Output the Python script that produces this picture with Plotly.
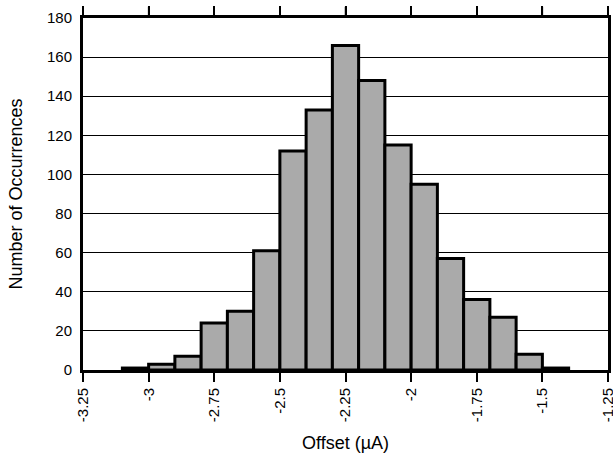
import plotly.graph_objects as go

# Histogram data: bin left edges (µA), bin width, counts
bin_left = [-3.1, -3.0, -2.9, -2.8, -2.7, -2.6, -2.5, -2.4, -2.3, -2.2,
            -2.1, -2.0, -1.9, -1.8, -1.7, -1.6, -1.5]
bin_width = 0.1
counts = [1, 3, 7, 24, 30, 61, 112, 133, 166, 148, 115, 95, 57, 36, 27, 8, 1]

x_tickvals = [-3.25, -3.0, -2.75, -2.5, -2.25, -2.0, -1.75, -1.5, -1.25]
x_ticktext = ["-3.25", "-3", "-2.75", "-2.5", "-2.25", "-2", "-1.75", "-1.5", "-1.25"]
y_tickvals = [0, 20, 40, 60, 80, 100, 120, 140, 160, 180]

x_range = [x_tickvals[0], x_tickvals[-1]]
centers = [b + bin_width / 2 for b in bin_left]

fig = go.Figure(go.Bar(
    x=centers, y=counts, width=[bin_width] * len(counts),
    marker=dict(color="#aaaaaa", line=dict(color="black", width=3)),
))

font = "Liberation Sans, Arial, sans-serif"
fig.update_layout(
    width=613, height=453,
    margin=dict(l=83, r=5, t=18, b=83, autoexpand=False),
    paper_bgcolor="white", plot_bgcolor="white",
    showlegend=False,
    font=dict(family=font, size=15, color="black"),
    xaxis=dict(
        range=x_range, tickvals=x_tickvals, ticktext=x_ticktext,
        tickangle=-90, ticks="outside", ticklen=9, tickwidth=1.5, tickcolor="black",
        showline=True, linecolor="black", linewidth=3, mirror="allticks",
        showgrid=False, zeroline=False, automargin=False,
        ticklabeloverflow="allow",
        title=dict(text="Offset (µA)", standoff=16),
    ),
    yaxis=dict(
        range=[0, 180], tickvals=y_tickvals,
        ticks="outside", ticklen=5, tickcolor="rgba(0,0,0,0)",
        showline=True, linecolor="black", linewidth=3, mirror=True,
        showgrid=True, gridcolor="black", gridwidth=1, zeroline=False,
        automargin=False,
        title=dict(text="Number of Occurrences", standoff=20),
    ),
)

# tick marks along the top edge (paper coordinates derived from the x tick values)
for v in x_tickvals:
    px = (v - x_range[0]) / (x_range[1] - x_range[0])
    fig.add_shape(type="line", xref="paper", yref="paper",
                  x0=px, x1=px, y0=1.0, y1=1.032,
                  line=dict(color="black", width=1.5), layer="above")

fig.write_html("out.html", config={"displayModeBar": False})
